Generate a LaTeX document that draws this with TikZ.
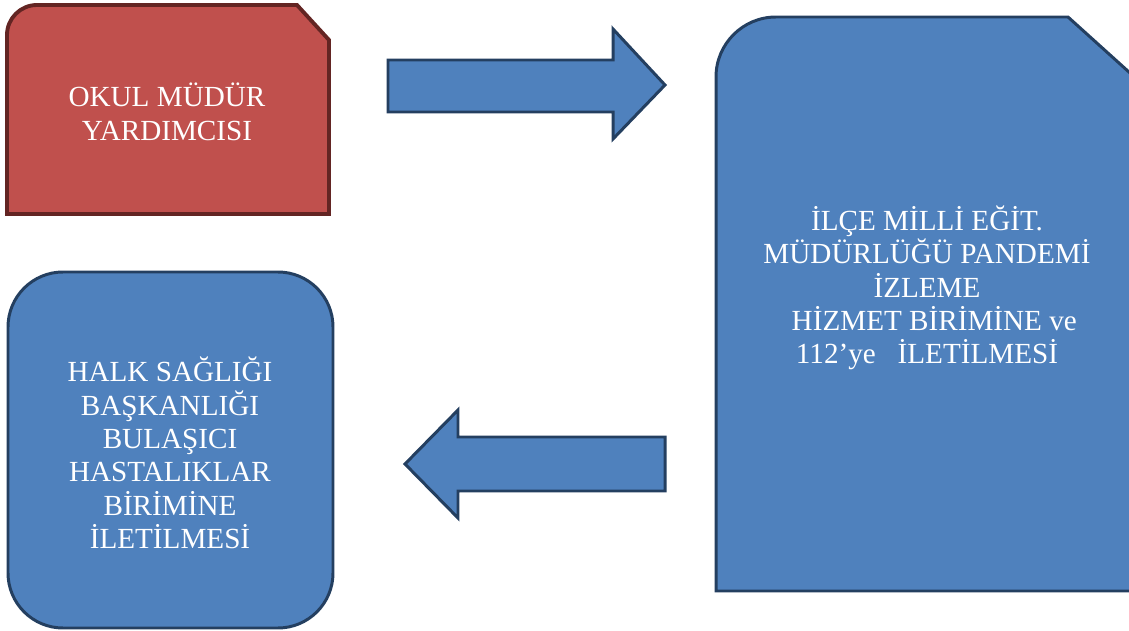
\documentclass[tikz,border=0pt]{standalone}
\usepackage{fontspec}
\setmainfont{Liberation Serif}
\definecolor{redfill}{HTML}{C0504D}
\definecolor{redline}{HTML}{632523}
\definecolor{bluefill}{HTML}{4F81BD}
\definecolor{blueline}{HTML}{243F60}
\tikzset{
  redbox/.style={color=redline, fill=redfill, line width=2.2pt},
  bluebox/.style={color=blueline, fill=bluefill, line width=1.7pt},
  boxtext/.style={text=white, align=center, inner sep=0pt,
    font=\fontsize{16.6pt}{19pt}\selectfont}
}
\begin{document}
\begin{tikzpicture}[x=0.02cm, y=-0.02cm]
\useasboundingbox (0,0) rectangle (1129,631);
\clip (0,0) rectangle (1129,631);
% top left box
\filldraw[redbox] (7,214) [rounded corners=0.6cm] -- (7,5) [sharp corners] -- (297,5) -- (329,40) -- (329,214) -- cycle;
\node[boxtext] (okul) at (167,112) {OKUL MÜDÜR\\YARDIMCISI};
% arrow to the right
\filldraw[bluebox] (388,60) -- (613,60) -- (613,29) -- (665,85) -- (613,139) -- (613,112) -- (388,112) -- cycle;
% big right box
\filldraw[bluebox] (716,591) [rounded corners=1.2cm] -- (716,17) [sharp corners] -- (1068,17) -- (1140,82) -- (1140,591) -- cycle;
\node[boxtext] (ilce) at (927,288) {İLÇE MİLLİ EĞİT.\hspace{1em}\\MÜDÜRLÜĞÜ PANDEMİ\\İZLEME\\\hspace{0.5em}HİZMET BİRİMİNE ve\\112’ye\ \ \ İLETİLMESİ};
% arrow to the left
\filldraw[bluebox] (665,437) -- (458,437) -- (458,410) -- (405,464) -- (458,518) -- (458,491) -- (665,491) -- cycle;
% bottom left box
\filldraw[bluebox, rounded corners=1.1cm] (8,272) rectangle (333,628);
\node[boxtext] (halk) at (170,453) {HALK SAĞLIĞI\\BAŞKANLIĞI\\BULAŞICI\\HASTALIKLAR\\BİRİMİNE\\İLETİLMESİ};
\end{tikzpicture}
\end{document}
